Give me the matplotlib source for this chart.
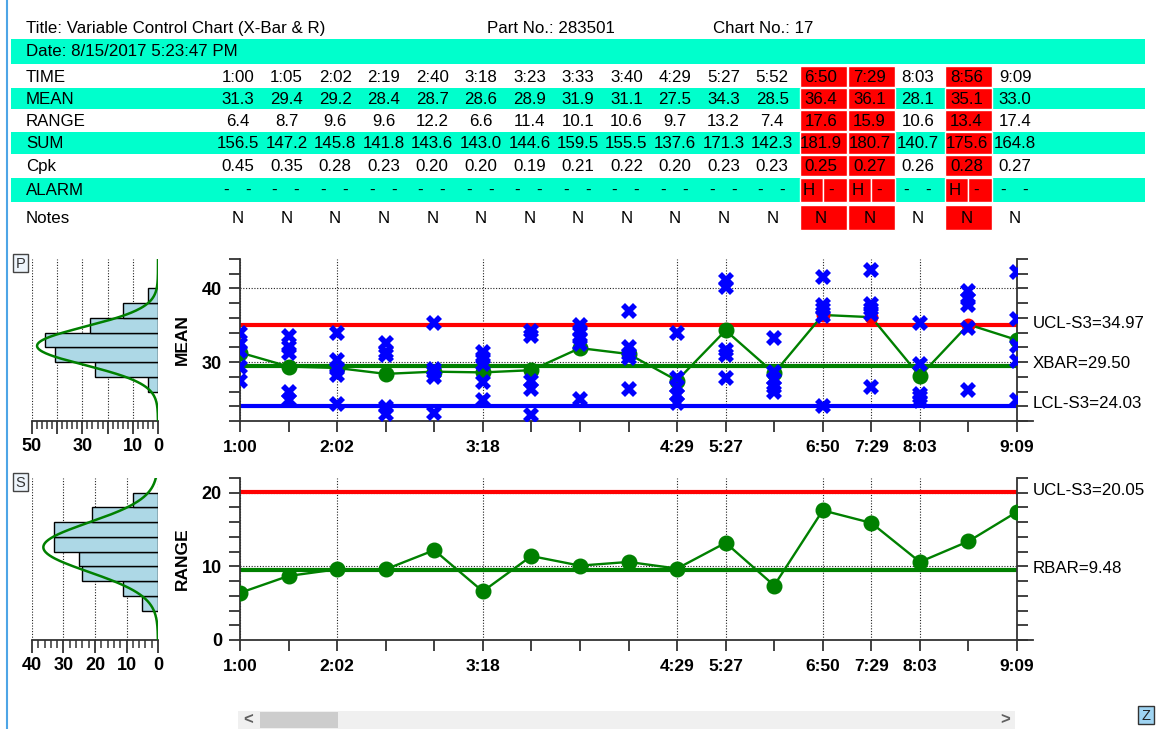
import numpy as np
import matplotlib
matplotlib.use("Agg")
import matplotlib.pyplot as plt
from matplotlib.patches import Rectangle
from matplotlib.ticker import MultipleLocator, FixedLocator, FuncFormatter

plt.rcParams['font.family'] = ['Liberation Sans', 'DejaVu Sans']

# ---- data ----
times = ["1:00", "1:05", "2:02", "2:19", "2:40", "3:18", "3:23", "3:33", "3:40",
         "4:29", "5:27", "5:52", "6:50", "7:29", "8:03", "8:56", "9:09"]
means = [31.3, 29.4, 29.2, 28.4, 28.7, 28.6, 28.9, 31.9, 31.1,
         27.5, 34.3, 28.5, 36.4, 36.1, 28.1, 35.1, 33.0]
ranges = [6.4, 8.7, 9.6, 9.6, 12.2, 6.6, 11.4, 10.1, 10.6,
          9.7, 13.2, 7.4, 17.6, 15.9, 10.6, 13.4, 17.4]
sums = [156.5, 147.2, 145.8, 141.8, 143.6, 143.0, 144.6, 159.5, 155.5,
        137.6, 171.3, 142.3, 181.9, 180.7, 140.7, 175.6, 164.8]
cpk = [0.45, 0.35, 0.28, 0.23, 0.20, 0.20, 0.19, 0.21, 0.22,
       0.20, 0.23, 0.23, 0.25, 0.27, 0.26, 0.28, 0.27]
notes = ["N"] * 17

# individual measurements (5 per subgroup)
samples = [
    [33.9, 32.4, 31.5, 29.3, 27.5],
    [33.6, 32.0, 31.2, 26.0, 24.9],
    [33.9, 30.3, 29.1, 28.2, 24.3],
    [32.6, 31.4, 30.9, 23.9, 23.0],
    [35.3, 29.1, 28.6, 28.0, 23.1],
    [31.4, 30.6, 29.7, 27.3, 24.8],
    [34.2, 33.5, 27.5, 26.4, 22.8],
    [35.1, 34.2, 33.3, 32.4, 25.0],
    [36.9, 32.0, 31.1, 30.6, 26.3],
    [34.0, 27.9, 26.6, 25.5, 24.4],
    [41.1, 40.2, 31.7, 30.9, 27.9],
    [33.3, 28.6, 27.7, 26.6, 25.9],
    [41.6, 37.7, 37.2, 36.2, 24.0],
    [42.5, 37.9, 37.2, 36.5, 26.6],
    [35.3, 29.8, 25.7, 25.2, 24.7],
    [39.6, 38.6, 37.8, 34.6, 26.2],
    [42.3, 35.8, 32.2, 30.2, 24.9],
]

xbar_ucl, xbar_cl, xbar_lcl = 34.97, 29.50, 24.03
r_ucl, r_cl = 20.05, 9.48

label_idx = [0, 2, 5, 9, 10, 12, 13, 14, 16]

# histogram of means (bin lower edges, frequency)
mean_bins = [26, 28, 30, 32, 34, 36, 38]
mean_freq = [4, 25, 41, 45, 27, 14, 4]
mean_fit = (32.2, 2.6, 48)      # centre, sigma, peak
# histogram of ranges
range_bins = [4, 6, 8, 10, 12, 14, 16, 18]
range_freq = [5, 11, 24, 25, 33, 33, 21, 8]
range_fit = (12.6, 3.34, 36.4)

# ---- figure ----
W, H = 1159, 729
fig = plt.figure(figsize=(W / 100, H / 100), dpi=100)

CYAN = '#00ffcc'
RED = '#ff0000'
GREEN = '#008000'
AXC = '#333333'
FS = 12.2

bg = fig.add_axes([0, 0, 1, 1], zorder=0)
bg.set_xlim(0, W)
bg.set_ylim(H, 0)
bg.axis('off')

# window border
bg.plot([7, 7], [0, H], color='#4ea5e6', lw=1.5)

# header
bg.text(26, 28, "Title: Variable Control Chart (X-Bar & R)", fontsize=FS, va='center')
bg.text(487, 28, "Part No.: 283501", fontsize=FS, va='center')
bg.text(713, 28, "Chart No.: 17", fontsize=FS, va='center')
bg.add_patch(Rectangle((11, 39), 1134, 25, fc=CYAN, ec='none'))
bg.text(26, 51.5, "Date: 8/15/2017 5:23:47 PM", fontsize=FS, va='center')

row_names = ["TIME", "MEAN", "RANGE", "SUM", "Cpk", "ALARM", "Notes"]
row_top = [66, 88, 110, 132, 155, 178, 205]
row_bot = [87, 109, 131, 154, 176, 202, 230]
cyan_rows = ["MEAN", "SUM", "ALARM"]

n = len(times)
col_x = [240 + i * 777 / 16 for i in range(n)]
alarm = [m > xbar_ucl for m in means]

row_text = {
    "TIME": times,
    "MEAN": [f"{v:.1f}" for v in means],
    "RANGE": [f"{v:.1f}" for v in ranges],
    "SUM": [f"{v:.1f}" for v in sums],
    "Cpk": [f"{v:.2f}" for v in cpk],
    "Notes": notes,
}

for name, t, b in zip(row_names, row_top, row_bot):
    yc = (t + b) / 2 + 0.5
    if name in cyan_rows:
        bg.add_patch(Rectangle((11, t), 1134, b - t, fc=CYAN, ec='none'))
    bg.text(26, yc, name, fontsize=FS, va='center')
    for i in range(n):
        cx = col_x[i]
        if alarm[i]:
            if name == "ALARM":
                bg.add_patch(Rectangle((cx - 23, t), 23, b - t, fc=RED, ec='white', lw=1))
                bg.add_patch(Rectangle((cx, t), 24, b - t, fc=RED, ec='white', lw=1))
            else:
                bg.add_patch(Rectangle((cx - 23, t), 47, b - t, fc=RED, ec='white', lw=1))
        if name == "ALARM":
            left = "H" if alarm[i] else "-"
            bg.text(cx - 14, yc, left, fontsize=FS, va='center', ha='center')
            bg.text(cx + 8, yc, "-", fontsize=FS, va='center', ha='center')
        else:
            bg.text(cx - 2, yc, row_text[name][i], fontsize=FS, va='center', ha='center')


def style_chart(ax, ymaj, ymin):
    for s in ['left', 'right', 'bottom']:
        ax.spines[s].set_color(AXC)
        ax.spines[s].set_linewidth(1.3)
    ax.spines['top'].set_visible(False)
    ax.set_xlim(0, 16)
    ax.xaxis.set_major_locator(FixedLocator(label_idx))
    ax.xaxis.set_minor_locator(FixedLocator(range(n)))
    ax.set_xticklabels([times[i] for i in label_idx])
    ax.yaxis.set_major_locator(MultipleLocator(ymaj))
    ax.yaxis.set_minor_locator(MultipleLocator(ymin))
    ax.tick_params(which='both', direction='out', length=8, width=1.3, color=AXC,
                   right=True, labelright=False)
    ax.tick_params(axis='x', which='both', length=8)
    ax.tick_params(axis='x', pad=6, labelsize=12.5)
    ax.tick_params(axis='y', pad=5, labelsize=13)
    for lab in ax.get_xticklabels() + ax.get_yticklabels():
        lab.set_fontweight('bold')
    ax.grid(True, which='major', linestyle=(0, (1, 1.5)), color='#222222', lw=0.8, zorder=0)
    ax.set_axisbelow(True)
    ax.plot([1, 1.02], [0, 0], transform=ax.transAxes, color=AXC, lw=1.3, clip_on=False)


def limit_label(ax, text, val):
    ax.annotate(text, xy=(1, val), xycoords=('axes fraction', 'data'),
                xytext=(11.5, 1.5), textcoords='offset points',
                ha='left', va='center', fontsize=FS)


# ---- X-bar chart ----
axm = fig.add_axes([240 / W, 1 - 421 / H, 777 / W, 162 / H], zorder=2)
axm.set_ylim(22, 44)
style_chart(axm, 10, 2)
axm.axhline(xbar_ucl, color=RED, lw=3, zorder=2)
axm.axhline(xbar_cl, color=GREEN, lw=3, zorder=2)
axm.axhline(xbar_lcl, color='#0000ff', lw=3, zorder=2)
idx = np.arange(n)
axm.plot(idx, means, color=GREEN, lw=1.7, zorder=3)
ok = [i for i in idx if not alarm[i]]
bad = [i for i in idx if alarm[i]]
axm.plot(ok, [means[i] for i in ok], 'o', color=GREEN, ms=10.5, zorder=4)
axm.plot(bad, [means[i] for i in bad], 'o', color=RED, ms=9, zorder=4)
for i, s in enumerate(samples):
    axm.plot([i] * len(s), s, 'X', color='#0000ff', ms=11, mew=0, zorder=5)
limit_label(axm, f"UCL-S3={xbar_ucl:.2f}", xbar_ucl)
limit_label(axm, f"XBAR={xbar_cl:.2f}", xbar_cl)
limit_label(axm, f"LCL-S3={xbar_lcl:.2f}", xbar_lcl)

# ---- Range chart ----
axr = fig.add_axes([240 / W, 1 - 640 / H, 777 / W, 162 / H], zorder=2)
axr.set_ylim(0, 22)
style_chart(axr, 10, 2)
axr.axhline(r_ucl, color=RED, lw=3, zorder=2)
axr.axhline(r_cl, color=GREEN, lw=3, zorder=2)
axr.plot(idx, ranges, '-o', color=GREEN, lw=1.7, ms=10.5, zorder=4)
limit_label(axr, f"UCL-S3={r_ucl:.2f}", r_ucl)
limit_label(axr, f"RBAR={r_cl:.2f}", r_cl)

fig.text(182 / W, 1 - 340 / H, "MEAN", rotation=90, ha='center', va='center',
         fontsize=12.5, fontweight='bold')
fig.text(182 / W, 1 - 559 / H, "RANGE", rotation=90, ha='center', va='center',
         fontsize=12.5, fontweight='bold')


# ---- side histograms ----
def side_hist(ax, bins, freq, fit, xmax, ylim, shown):
    ax.barh(bins, freq, height=2, align='edge', color='#add8e6', edgecolor='black',
            lw=1, zorder=2)
    yy = np.linspace(ylim[0], ylim[1], 300)
    mu, sd, peak = fit
    ax.plot(peak * np.exp(-(yy - mu) ** 2 / (2 * sd ** 2)), yy, color=GREEN, lw=1.8, zorder=3)
    ax.set_xlim(xmax, 0)
    ax.set_ylim(*ylim)
    for s in ['left', 'right', 'top']:
        ax.spines[s].set_visible(False)
    ax.spines['bottom'].set_color(AXC)
    ax.spines['bottom'].set_linewidth(1.3)
    ax.set_yticks([])
    ax.xaxis.set_major_locator(MultipleLocator(10))
    ax.xaxis.set_minor_locator(MultipleLocator(2))
    ax.xaxis.set_major_formatter(FuncFormatter(
        lambda v, p: f"{v:.0f}" if round(v) in shown else ""))
    ax.tick_params(axis='x', which='major', length=9, width=1.3, color=AXC,
                   labelsize=13, pad=3)
    ax.tick_params(axis='x', which='minor', length=6, width=1.1, color=AXC)
    for lab in ax.get_xticklabels():
        lab.set_fontweight('bold')
    ax.grid(True, axis='x', which='major', linestyle=(0, (1, 1.5)), color='#222222', lw=0.8)
    ax.set_axisbelow(True)


axhm = fig.add_axes([32 / W, 1 - 421 / H, 126 / W, 162 / H], zorder=2)
side_hist(axhm, mean_bins, mean_freq, mean_fit, 50, (22, 44), [50, 30, 10, 0])
axhr = fig.add_axes([32 / W, 1 - 640 / H, 126 / W, 162 / H], zorder=2)
side_hist(axhr, range_bins, range_freq, range_fit, 40, (0, 22), [40, 30, 20, 10, 0])

# small corner boxes
for lbl, y0 in [("P", 254), ("S", 473)]:
    bg.add_patch(Rectangle((13, y0), 15, 18, fc='#eef5fc', ec='#444444', lw=1))
    bg.text(20.5, y0 + 9.5, lbl, ha='center', va='center', fontsize=10.5, color='#333333')

# scrollbar
bg.add_patch(Rectangle((238, 711), 777, 18, fc='#f0f0f0', ec='none'))
bg.add_patch(Rectangle((260, 712), 78, 16, fc='#cdcdcd', ec='none'))
bg.text(248, 720, "<", ha='center', va='center', fontsize=12, color='#606060', fontweight='bold')
bg.text(1005, 720, ">", ha='center', va='center', fontsize=12, color='#606060', fontweight='bold')

# zoom box
bg.add_patch(Rectangle((1138, 706), 16, 18, fc='#9fd4f2', ec='#333333', lw=1))
bg.text(1146, 715.5, "Z", ha='center', va='center', fontsize=10.5, color='#222222')

fig.savefig("out.png", dpi=100)
